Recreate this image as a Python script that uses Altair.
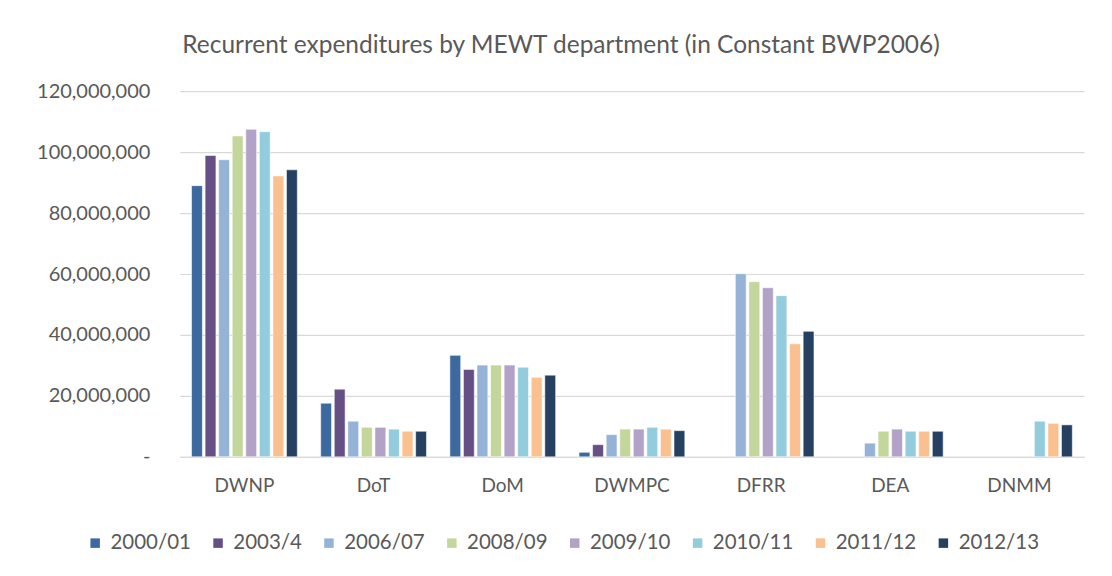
import altair as alt
import pandas as pd

departments = ["DWNP", "DoT", "DoM", "DWMPC", "DFRR", "DEA", "DNMM"]
years = ["2000/01", "2003/4", "2006/07", "2008/09", "2009/10", "2010/11", "2011/12", "2012/13"]
colors = ["#3c6a9e", "#654f85", "#95b3d7", "#c3d69b", "#b3a2c7", "#93cddd", "#fac090", "#254061"]

# values per department, in year order (None = no bar)
DWNP = [89.0e6, 98.9e6, 97.5e6, 105.3e6, 107.5e6, 106.7e6, 92.2e6, 94.2e6]
DoT = [17.6e6, 22.2e6, 11.7e6, 9.7e6, 9.7e6, 9.1e6, 8.4e6, 8.4e6]
DoM = [33.3e6, 28.7e6, 30.1e6, 30.1e6, 30.1e6, 29.4e6, 26.1e6, 26.8e6]
DWMPC = [1.5e6, 4.0e6, 7.3e6, 9.1e6, 9.1e6, 9.7e6, 9.1e6, 8.6e6]
DFRR = [None, None, 60.1e6, 57.5e6, 55.5e6, 52.9e6, 37.1e6, 41.2e6]
DEA = [None, None, 4.5e6, 8.4e6, 9.1e6, 8.4e6, 8.4e6, 8.4e6]
DNMM = [None, None, None, None, None, 11.7e6, 11.0e6, 10.5e6]

y_ticks = [0, 20000000, 40000000, 60000000, 80000000, 100000000, 120000000]

series = {"DWNP": DWNP, "DoT": DoT, "DoM": DoM, "DWMPC": DWMPC,
          "DFRR": DFRR, "DEA": DEA, "DNMM": DNMM}

rows = []
for d in departments:
    for y, v in zip(years, series[d]):
        if v is not None:
            rows.append({"dept": d, "year": y, "value": v})
df = pd.DataFrame(rows)

FONT = "Lato"
GREY = "#595959"
NB = "\u00a0"

chart = alt.Chart(df).mark_bar(stroke="white", strokeWidth=0.8, strokeOpacity=0.7).encode(
    x=alt.X("dept:N", sort=departments, title=None,
            scale=alt.Scale(paddingInner=0.16, paddingOuter=0.08),
            axis=alt.Axis(labelAngle=0, labelFont=FONT, labelFontSize=19, labelColor=GREY,
                          labelPadding=20, ticks=False, domainColor="#d9d9d9", domainWidth=1.2)),
    xOffset=alt.XOffset("year:N", sort=years,
                        scale=alt.Scale(paddingInner=0.2, paddingOuter=0.1)),
    y=alt.Y("value:Q", title=None,
            scale=alt.Scale(domain=[0, 120000000], nice=False),
            axis=alt.Axis(values=y_ticks,
                          labelExpr="datum.value == 0 ? '-" + NB * 5 + "' : format(datum.value, ',')",
                          labelFont=FONT, labelFontSize=20, labelColor=GREY, labelPadding=30,
                          ticks=False, domain=False, gridColor="#d9d9d9", gridWidth=1.2)),
    color=alt.Color("year:N", sort=years, title=None,
                    scale=alt.Scale(domain=years, range=colors),
                    legend=alt.Legend(orient="none", direction="horizontal", legendX=-95, legendY=442,
                                      symbolType="square", symbolSize=90, symbolStrokeWidth=0,
                                      labelFont=FONT, labelFontSize=20.5, labelColor=GREY,
                                      columnPadding=16, labelOffset=5)),
).properties(
    width=905, height=366,
    padding={"left": 172, "top": 83, "right": 20, "bottom": 108},
    autosize=alt.AutoSizeParams(type="none"),
    title=alt.TitleParams("Recurrent expenditures by MEWT department  (in Constant BWP2006)",
                          font=FONT, fontSize=24.5, fontWeight="normal", color=GREY,
                          anchor="middle", dx=-71, offset=23),
).configure(background="white").configure_view(stroke=None)

chart.save("out.html", embed_options={"renderer": "svg", "actions": False})
